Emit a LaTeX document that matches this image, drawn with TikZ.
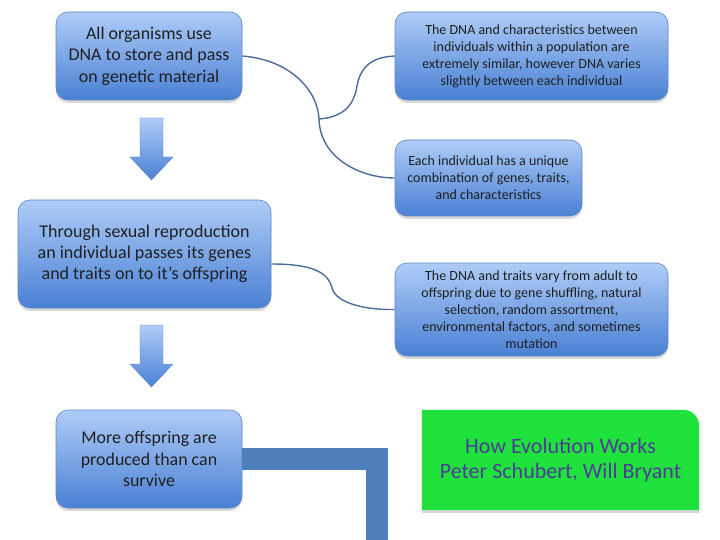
\documentclass[tikz,border=0pt]{standalone}
\usepackage{fontspec}
\setmainfont{Carlito}
\usetikzlibrary{shadows,calc}
\definecolor{cboxT}{HTML}{AFCCF7}
\definecolor{cboxB}{HTML}{4A80D4}
\definecolor{cboxD}{HTML}{5B88C9}
\definecolor{clink}{HTML}{4D6C9C}
\definecolor{cbar}{HTML}{4F7FBD}
\definecolor{cgreen}{HTML}{1FE23C}
\definecolor{ctitle}{HTML}{4E3C96}
\tikzset{
  bbox/.style={draw=cboxD, line width=0.6pt, rounded corners=12pt,
               top color=cboxT, bottom color=cboxB, align=center,
               text=black!88, inner sep=2pt,
               drop shadow={opacity=0.3, shadow xshift=0pt, shadow yshift=-3pt}},
  bigtxt/.style={bbox, font=\fontsize{17.9}{21.5}\selectfont},
  midtxt/.style={bbox, font=\fontsize{18}{21}\selectfont},
  smalltxt/.style={bbox, font=\fontsize{14}{17}\selectfont},
  downarr/.style={draw=cboxD, line width=0.4pt, top color=cboxT, bottom color=cboxB},
  link/.style={draw=clink, line width=1.4pt},
  bar/.style={draw=cbar, line width=22pt},
}
\begin{document}
\begin{tikzpicture}[x=1pt, y=-1pt]
  \useasboundingbox[fill=white] (0,0) rectangle (720,540);
  % left column
  \node[bigtxt, minimum width=186, minimum height=88] (a) at (149,56)
    {All organisms use\\DNA to store and pass\\on genetic material};
  \node[midtxt, minimum width=253, minimum height=108] (d) at (144.5,254)
    {Through sexual reproduction\\an individual passes its genes\\and traits on to it’s offspring};
  \node[bigtxt, minimum width=186, minimum height=98] (f) at (149,459)
    {More offspring are\\produced than can\\survive};
  % right column
  \node[smalltxt, minimum width=273, minimum height=88] (b) at (531.5,56)
    {The DNA and characteristics between\\individuals within a population are\\extremely similar, however DNA varies\\slightly between each individual};
  \node[smalltxt, minimum width=187, minimum height=76] (c) at (488.5,178)
    {Each individual has a unique\\combination of genes, traits,\\and characteristics};
  \node[smalltxt, minimum width=273, minimum height=93] (e) at (531.5,309.5)
    {The DNA and traits vary from adult to\\offspring due to gene shuffling, natural\\selection, random assortment,\\environmental factors, and sometimes\\mutation};
  % title box
  \node[minimum width=277, minimum height=100, inner sep=0] (g) at (560.5,460) {};
  \fill[cgreen, drop shadow={opacity=0.3, shadow xshift=0pt, shadow yshift=-3pt}]
    (g.south west) -- (g.north west) [rounded corners=16pt] -- (g.north east)
    [sharp corners] -- (g.south east) -- cycle;
  \node[text=ctitle, align=center, font=\fontsize{22}{25}\selectfont] (t) at (g)
    {How Evolution Works\\Peter Schubert, Will Bryant};
  % block arrows
  \path[downarr] (140,118) -- (163,118) -- (163,157) -- (173,157) -- (151.5,180)
    -- (130,157) -- (140,157) -- cycle;
  \path[downarr] (140,325) -- (163,325) -- (163,364) -- (173,364) -- (151.5,387)
    -- (130,364) -- (140,364) -- cycle;
  % connectors
  \coordinate (j1) at (319,119);
  \draw[link] (a.east) .. controls (292,60) and (318,92) .. (j1);
  \draw[link] (j1) .. controls (345,117) and (354,104) .. (357,86)
    .. controls (361,64) and (375,57) .. (b.west);
  \draw[link] (j1) .. controls (320,158) and (360,178) .. (c.west);
  \draw[link] ([yshift=-10pt]d.east) .. controls (312,264) and (328,272) .. (332,288)
    .. controls (337,305) and (370,310) .. (e.west);
  \coordinate (barend) at (376.5,545);
  \draw[bar] (f.east) -| (barend);
\end{tikzpicture}
\end{document}
